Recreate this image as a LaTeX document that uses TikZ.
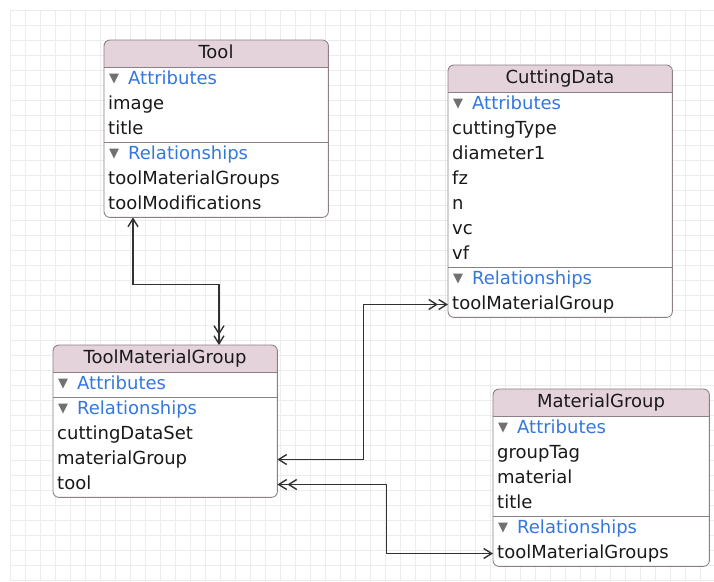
\documentclass[tikz,border=0pt]{standalone}
\usepackage{fontspec}
\setmainfont{DejaVu Sans}
\usetikzlibrary{arrows.meta}

\definecolor{headpink}{RGB}{229,211,219}
\definecolor{boxline}{RGB}{140,128,134}
\definecolor{relblue}{RGB}{52,120,222}
\definecolor{trigray}{RGB}{112,112,112}
\definecolor{linkgray}{RGB}{50,50,50}
\definecolor{gridgray}{RGB}{236,236,236}
\definecolor{inkgray}{RGB}{25,25,25}

\newcommand{\disclosure}{\makebox[20pt][l]{\hspace{1pt}\raisebox{1.5pt}{\textcolor{trigray}{\fontsize{13}{13}\selectfont ▼}}}}

\begin{document}
\begin{tikzpicture}[x=1pt,y=-1pt,
  every node/.style={font=\fontsize{18}{20}\selectfont},
  entity/.style={fill=white, inner sep=0pt, anchor=north west},
  outline/.style={draw=boxline, line width=0.9pt, rounded corners=6pt},
  divider/.style={draw=boxline, line width=0.8pt},
  row/.style={anchor=west, inner sep=0pt, text height=13pt, text depth=4pt, text=inkgray},
  entitytitle/.style={inner sep=0pt, text height=13pt, text depth=4pt, text=inkgray},
  link/.style={draw=linkgray, line width=1.4pt},
  onearr/.tip={Straight Barb[length=8pt,width=10pt]},
  manyarr/.tip={Straight Barb[length=8pt,width=10pt] Straight Barb[length=8pt,width=10pt]}]

\useasboundingbox (0,0) rectangle (714,581);
\fill[white] (0,0) rectangle (714,581);
\draw[gridgray, line width=0.5pt, xshift=10pt, yshift=-10pt] (0,0) grid[step=15pt] (704,571);

\node[entity, minimum width=224pt, minimum height=177pt] (tool) at (104,40) {};
\fill[headpink, rounded corners=6pt] (104,40) rectangle (328,67);
\fill[headpink] (104,55) rectangle (328,67);
\draw[divider] (104,67) -- (328,67);
\draw[divider] (104,142) -- (328,142);
\draw[outline] (tool.north west) rectangle (tool.south east);
\node[entitytitle] (tool-name) at (216,53.5) {Tool};
\node[row] (tool-attr) at (108,79.5) {\disclosure\textcolor{relblue}{Attributes}};
\node[row] (tool-image) at (108,104.5) {image};
\node[row] (tool-title) at (108,129.5) {title};
\node[row] (tool-rel) at (108,154.5) {\disclosure\textcolor{relblue}{Relationships}};
\node[row] (tool-toolmatgroups) at (108,179.5) {toolMaterialGroups};
\node[row] (tool-toolmods) at (108,204.5) {toolModifications};

\node[entity, minimum width=224pt, minimum height=252pt] (cd) at (448,65) {};
\fill[headpink, rounded corners=6pt] (448,65) rectangle (672,92);
\fill[headpink] (448,80) rectangle (672,92);
\draw[divider] (448,92) -- (672,92);
\draw[divider] (448,267) -- (672,267);
\draw[outline] (cd.north west) rectangle (cd.south east);
\node[entitytitle] (cd-name) at (560,78.5) {CuttingData};
\node[row] (cd-attr) at (452,104.5) {\disclosure\textcolor{relblue}{Attributes}};
\node[row] (cd-cuttingtype) at (452,129.5) {cuttingType};
\node[row] (cd-diameter) at (452,154.5) {diameter1};
\node[row] (cd-fz) at (452,179.5) {fz};
\node[row] (cd-n) at (452,204.5) {n};
\node[row] (cd-vc) at (452,229.5) {vc};
\node[row] (cd-vf) at (452,254.5) {vf};
\node[row] (cd-rel) at (452,279.5) {\disclosure\textcolor{relblue}{Relationships}};
\node[row] (cd-toolmatgroup) at (452,304.5) {toolMaterialGroup};

\node[entity, minimum width=224pt, minimum height=152pt] (tmg) at (53,345) {};
\fill[headpink, rounded corners=6pt] (53,345) rectangle (277,372);
\fill[headpink] (53,360) rectangle (277,372);
\draw[divider] (53,372) -- (277,372);
\draw[divider] (53,397) -- (277,397);
\draw[outline] (tmg.north west) rectangle (tmg.south east);
\node[entitytitle] (tmg-name) at (165,358.5) {ToolMaterialGroup};
\node[row] (tmg-attr) at (57,384.5) {\disclosure\textcolor{relblue}{Attributes}};
\node[row] (tmg-rel) at (57,409.5) {\disclosure\textcolor{relblue}{Relationships}};
\node[row] (tmg-cuttingdataset) at (57,434.5) {cuttingDataSet};
\node[row] (tmg-matgroup) at (57,459.5) {materialGroup};
\node[row] (tmg-tool) at (57,484.5) {tool};

\node[entity, minimum width=216pt, minimum height=177pt] (mg) at (493,389) {};
\fill[headpink, rounded corners=6pt] (493,389) rectangle (709,416);
\fill[headpink] (493,404) rectangle (709,416);
\draw[divider] (493,416) -- (709,416);
\draw[divider] (493,516) -- (709,516);
\draw[outline] (mg.north west) rectangle (mg.south east);
\node[entitytitle] (mg-name) at (601,402.5) {MaterialGroup};
\node[row] (mg-attr) at (497,428.5) {\disclosure\textcolor{relblue}{Attributes}};
\node[row] (mg-grouptag) at (497,453.5) {groupTag};
\node[row] (mg-material) at (497,478.5) {material};
\node[row] (mg-title) at (497,503.5) {title};
\node[row] (mg-rel) at (497,528.5) {\disclosure\textcolor{relblue}{Relationships}};
\node[row] (mg-toolmatgroups) at (497,553.5) {toolMaterialGroups};

\draw[link, onearr-manyarr] ([xshift=29pt]tool.south west) -- ++(0,67) -| ([xshift=166pt]tmg.north west);
\draw[link, onearr-manyarr] (tmg-matgroup -| tmg.east) -- ++(86,0) |- (cd-toolmatgroup -| cd.west);
\draw[link, manyarr-onearr] (tmg-tool -| tmg.east) -- ++(109,0) |- (mg-toolmatgroups -| mg.west);
\end{tikzpicture}
\end{document}
